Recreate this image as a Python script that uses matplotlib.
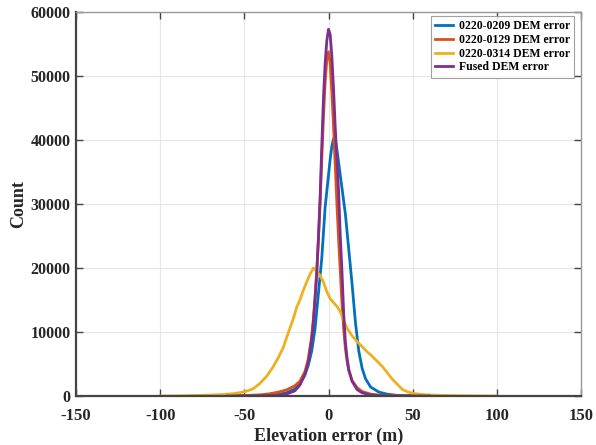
import matplotlib
matplotlib.use("Agg")
import matplotlib.pyplot as plt

# ---- data ----
x_0209 = [-60, -50, -40, -30, -25, -20, -17, -14, -12, -10, -8, -6, -4, -2, 0, 1, 2, 3, 4, 5, 6, 7, 8,
          9, 10, 12, 14, 16, 18, 20, 22, 25, 30, 35, 40, 50, 60]
y_0209 = [0, 30, 80, 230, 500, 1100, 1900, 3300, 4800, 7000, 10500, 16000, 21500, 29500, 34500, 37000,
          39000, 40200, 40000, 38500, 36500, 34500, 32500, 30500, 28500, 23000, 17500, 11500, 7000, 4300,
          2700, 1400, 600, 280, 120, 30, 0]

x_0129 = [-70, -60, -50, -40, -35, -30, -25, -20, -17, -14, -12, -10, -9, -8, -7, -6, -5, -4, -3, -2, -1,
          0, 1, 2, 3, 4, 5, 6, 7, 8, 9, 10, 11, 12, 14, 17, 20, 25, 30, 40, 50]
y_0129 = [0, 20, 60, 200, 350, 600, 950, 1600, 2300, 3800, 5800, 9300, 12000, 15500, 19500, 24500,
          30000, 37000, 43500, 49000, 52500, 53800, 52000, 47500, 42000, 36000, 30000, 24500, 19500,
          14500, 10500, 7500, 5500, 4000, 2400, 1300, 700, 300, 150, 40, 0]

x_0314 = [-100, -90, -80, -70, -60, -55, -50, -45, -41, -37, -33, -30, -27, -24, -21, -19, -17, -15, -13,
          -11, -9, -7, -5, -3, -1, 1, 3, 5, 7, 9, 11, 14, 17, 20, 23, 26, 29, 32, 35, 38, 41, 44, 47,
          50, 55, 60, 70, 80, 90, 100]
y_0314 = [0, 20, 80, 150, 280, 420, 650, 1100, 1900, 3000, 4500, 5900, 7500, 9800, 12000, 13800, 15000,
          16500, 17800, 19000, 20000, 19500, 18800, 17800, 16300, 15200, 14600, 14000, 13200, 11800,
          10600, 9400, 8500, 7700, 6900, 6200, 5400, 4600, 3600, 2600, 1800, 1000, 650, 420, 250, 160,
          80, 40, 10, 0]

x_fused = [-60, -40, -30, -25, -20, -17, -14, -12, -10, -9, -8, -7, -6, -5, -4, -3, -2, -1, 0, 1, 2, 3,
           4, 5, 6, 7, 8, 9, 10, 11, 12, 14, 17, 20, 25, 30, 40, 60]
y_fused = [0, 30, 120, 300, 800, 1700, 3400, 5300, 8800, 11500, 15000, 19000, 24500, 31000, 39000,
           46500, 52000, 55500, 57300, 56500, 53000, 48000, 42000, 37000, 32000, 25000, 19500, 13000,
           8500, 6000, 4200, 2300, 1000, 500, 180, 60, 10, 0]

labels = ["0220-0209 DEM error", "0220-0129 DEM error", "0220-0314 DEM error", "Fused DEM error"]
colors = ["#0072BD", "#D95319", "#EDB120", "#7E2F8E"]

x_ticks = [-150, -100, -50, 0, 50, 100, 150]
y_ticks = [0, 10000, 20000, 30000, 40000, 50000, 60000]

plt.rcParams["font.family"] = ["Liberation Serif", "DejaVu Serif"]
plt.rcParams["font.weight"] = "bold"

fig = plt.figure(figsize=(5.96, 4.45), dpi=100)
ax = fig.add_axes([76 / 596, 49 / 445, 505 / 596, 384 / 445])

series = [(x_0209, y_0209), (x_0129, y_0129), (x_0314, y_0314), (x_fused, y_fused)]
for (xs, ys), lab, c in zip(series, labels, colors):
    ax.plot(xs, ys, color=c, lw=2.0, label=lab)

ax.set_xlim(-150, 150)
ax.set_ylim(0, 60000)
ax.set_xticks(x_ticks)
ax.set_yticks(y_ticks)
ax.set_xticklabels([str(v) for v in x_ticks], fontsize=12, fontweight="bold", color="#262626")
ax.set_yticklabels([str(v) for v in y_ticks], fontsize=11.5, fontweight="bold", color="#262626")
ax.grid(True, color="#e6e6e6", lw=0.8)
ax.set_axisbelow(True)
ax.tick_params(direction="in", length=5, width=1, color="#444444", top=True, right=True)
ax.tick_params(axis="x", pad=9)
ax.tick_params(axis="y", pad=4)

for s in ["left", "bottom"]:
    ax.spines[s].set_color("#444444")
    ax.spines[s].set_linewidth(1.6)
for s in ["top", "right"]:
    ax.spines[s].set_color("#999999")
    ax.spines[s].set_linewidth(1.0)

ax.set_xlabel("Elevation error (m)", fontsize=13, fontweight="bold", color="#262626", labelpad=2.5)
ax.set_ylabel("Count", fontsize=13, fontweight="bold", color="#262626", labelpad=2)

leg = ax.legend(loc="upper right", bbox_to_anchor=(1 - 7 / 505, 1 - 4 / 384), borderaxespad=0,
                fontsize=8.5, frameon=True, fancybox=False,
                handlelength=1.5, handletextpad=0.5, borderpad=0.35, labelspacing=0.15)
leg.get_frame().set_edgecolor("#888888")
leg.get_frame().set_linewidth(0.8)
for t in leg.get_texts():
    t.set_fontweight("bold")

fig.savefig("out.png", dpi=100)
